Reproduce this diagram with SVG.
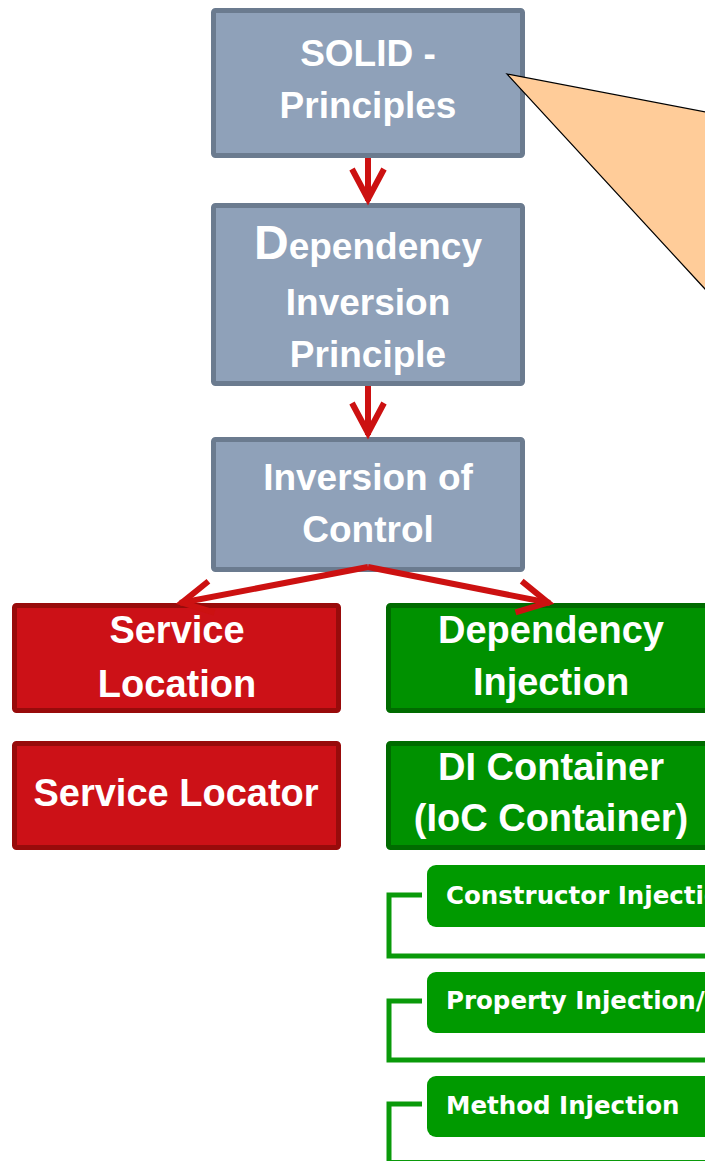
<svg xmlns="http://www.w3.org/2000/svg" width="705" height="1161" viewBox="0 0 705 1161">
  <style>
    .slate { fill: #8fa1b9; stroke: #6b7b8f; stroke-width: 5; }
    .red { fill: #cc1117; stroke: #980b0b; stroke-width: 5; }
    .green { fill: #009100; stroke: #006b00; stroke-width: 5; }
    .sub { fill: #009a00; }
    .t { font-family: "Liberation Sans", Arial, sans-serif; font-weight: bold; fill: #ffffff; text-anchor: middle; }
    .t37 { font-size: 37px; }
    .t38 { font-size: 38px; }
    .ts { font-family: "DejaVu Sans", Verdana, sans-serif; font-weight: bold; font-size: 24.5px; fill: #ffffff; }
    .flow { fill: none; stroke: #cc1111; stroke-width: 6; marker-end: url(#chev); }
    .bracket { fill: none; stroke: #0a9a0a; stroke-width: 5; }
  </style>
  <defs>
    <marker id="chev" markerUnits="userSpaceOnUse" viewBox="-40 -25 50 50" refX="2" refY="0" markerWidth="50" markerHeight="50" orient="auto">
      <path d="M-30,-16 L0,0 L-30,16" fill="none" stroke="#cc1111" stroke-width="6" stroke-linejoin="miter"/>
    </marker>
  </defs>

  <rect width="705" height="1161" fill="#ffffff"/>

  <!-- principle chain -->
  <g id="solid">
    <rect class="slate" x="213.5" y="10.5" width="309" height="145" rx="2"/>
    <text class="t t37" x="368" y="66">SOLID -</text>
    <text class="t t37" x="368" y="118">Principles</text>
  </g>
  <g id="dip">
    <rect class="slate" x="213.5" y="205.5" width="309" height="178" rx="2"/>
    <text class="t t37" x="368" y="259"><tspan font-size="48">D</tspan>ependency</text>
    <text class="t t37" x="368" y="315">Inversion</text>
    <text class="t t37" x="368" y="367">Principle</text>
  </g>
  <g id="ioc">
    <rect class="slate" x="213.5" y="439.5" width="309" height="130" rx="2"/>
    <text class="t t37" x="368" y="490">Inversion of</text>
    <text class="t t37" x="368" y="542">Control</text>
  </g>

  <!-- two branches -->
  <g id="service-location">
    <rect class="red" x="14.5" y="605.5" width="324" height="105" rx="2"/>
    <text class="t t38" x="177" y="643">Service</text>
    <text class="t t38" x="177" y="697">Location</text>
  </g>
  <g id="dependency-injection">
    <rect class="green" x="388.5" y="605.5" width="340" height="105" rx="2"/>
    <text class="t t38" x="551" y="643">Dependency</text>
    <text class="t t38" x="551" y="695">Injection</text>
  </g>
  <g id="service-locator">
    <rect class="red" x="14.5" y="743.5" width="324" height="104" rx="2"/>
    <text class="t t38" x="176" y="806">Service Locator</text>
  </g>
  <g id="di-container">
    <rect class="green" x="388.5" y="743.5" width="340" height="104" rx="2"/>
    <text class="t t38" x="551" y="780">DI Container</text>
    <text class="t t38" x="551" y="831">(IoC Container)</text>
  </g>

  <!-- injection styles -->
  <g id="constructor-injection">
    <rect class="sub" x="427" y="865" width="300" height="62" rx="9"/>
    <text class="ts" x="446" y="904">Constructor Injection</text>
  </g>
  <g id="property-injection">
    <rect class="sub" x="427" y="972" width="300" height="61" rx="9"/>
    <text class="ts" x="446" y="1009">Property Injection/</text>
  </g>
  <g id="method-injection">
    <rect class="sub" x="427" y="1076" width="300" height="61" rx="9"/>
    <text class="ts" x="446" y="1114">Method Injection</text>
  </g>

  <!-- callout -->
  <polygon id="callout" points="507,74 712,113.3 712,296.6" fill="#ffcc99" stroke="#000000" stroke-width="1.2"/>

  <!-- connectors -->
  <g id="connectors">
    <path class="flow" d="M368,158 L368,201"/>
    <path class="flow" d="M368,386 L368,435"/>
    <path class="flow" d="M368,567 L180,603"/>
    <path class="flow" d="M368,567 L550,603"/>
    <path class="bracket" d="M422,895 L389,895 L389,956 L710,956"/>
    <path class="bracket" d="M422,1001 L389,1001 L389,1060 L710,1060"/>
    <path class="bracket" d="M422,1104 L389,1104 L389,1162.5 L710,1162.5"/>
  </g>
</svg>
